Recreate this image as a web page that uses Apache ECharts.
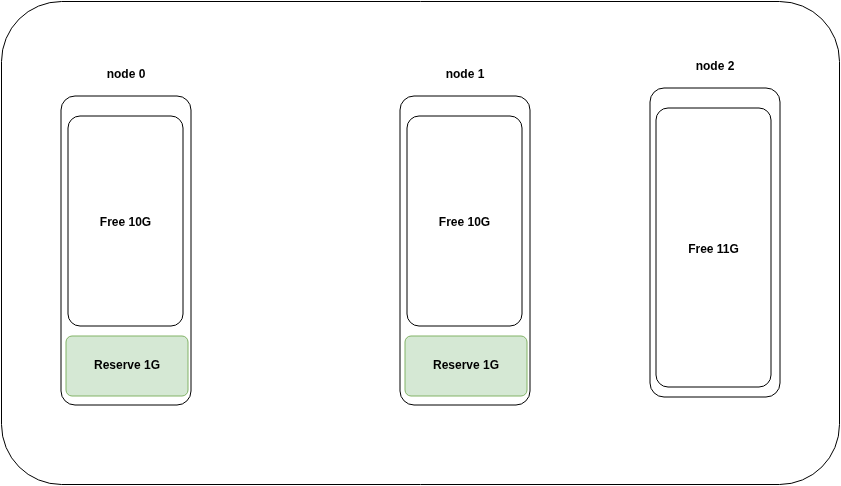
<!DOCTYPE html>
<html>
<head>
<meta charset="utf-8">
<script src="https://cdn.jsdelivr.net/npm/echarts@6/dist/echarts.min.js"></script>
<style>
  html, body { margin: 0; padding: 0; background: #fff; }
  #main { width: 841px; height: 486px; }
</style>
</head>
<body>
<div id="main"></div>
<script>
// 节点数据
var nodeNames = ['node 0', 'node 1', 'node 2'];
var freeGB = [10, 10, 11];
var reserveGB = [1, 1, 0];

// 每个节点框的位置（左, 上）
var nodeLayout = [[61, 96], [400, 96], [650, 88]];

var myChart = echarts.init(document.getElementById('main'));
var font = 'bold 12px "Liberation Sans", Arial, sans-serif';

function renderNode(params, api) {
    var i = api.value(0);
    var pos = nodeLayout[i];
    var x = pos[0], y = pos[1];
    var free = api.value(1), reserve = api.value(2);
    var p = function (a, b) { return api.coord([a, b]); };
    var tl = p(x, y), br = p(x + 130, y + 309);
    var children = [];
    children.push({ type: 'rect', shape: { x: tl[0], y: tl[1], width: br[0] - tl[0], height: br[1] - tl[1], r: 14 },
        style: { fill: '#fff', stroke: '#000', lineWidth: 1 } });
    children.push({ type: 'text', style: { x: (tl[0] + br[0]) / 2, y: tl[1] - 21, text: api.value(3),
        font: font, fill: '#000', align: 'center', verticalAlign: 'middle' } });
    var freeTop, freeBottom, fl, fr;
    if (reserve > 0) {
        freeTop = p(x + 7, y + 20); freeBottom = p(x + 122, y + 230);
    } else {
        freeTop = p(x + 6, y + 20); freeBottom = p(x + 121, y + 299);
    }
    children.push({ type: 'rect', shape: { x: freeTop[0], y: freeTop[1], width: freeBottom[0] - freeTop[0], height: freeBottom[1] - freeTop[1], r: 12 },
        style: { fill: '#fff', stroke: '#000', lineWidth: 1 } });
    children.push({ type: 'text', style: { x: (freeTop[0] + freeBottom[0]) / 2, y: (freeTop[1] + freeBottom[1]) / 2 + 2,
        text: 'Free ' + free + 'G', font: font, fill: '#000', align: 'center', verticalAlign: 'middle' } });
    if (reserve > 0) {
        var rt = p(x + 5, y + 240), rb = p(x + 127, y + 300);
        children.push({ type: 'rect', shape: { x: rt[0], y: rt[1], width: rb[0] - rt[0], height: rb[1] - rt[1], r: 6 },
            style: { fill: '#d5e8d4', stroke: '#82b366', lineWidth: 1 } });
        children.push({ type: 'text', style: { x: (rt[0] + rb[0]) / 2, y: (rt[1] + rb[1]) / 2,
            text: 'Reserve ' + reserve + 'G', font: font, fill: '#000', align: 'center', verticalAlign: 'middle' } });
    }
    return { type: 'group', children: children };
}

var option = {
    animation: false,
    grid: { left: 0, right: 0, top: 0, bottom: 0 },
    xAxis: { type: 'value', min: 0, max: 841, show: false },
    yAxis: { type: 'value', min: 0, max: 486, inverse: true, show: false },
    graphic: [{
        type: 'rect', left: 1, top: 1,
        shape: { width: 838, height: 483, r: 60 },
        style: { fill: '#fff', stroke: '#000', lineWidth: 1 },
        z: -1
    }],
    series: [{
        type: 'custom',
        renderItem: renderNode,
        data: nodeNames.map(function (n, i) { return [i, freeGB[i], reserveGB[i], n]; })
    }]
};

myChart.setOption(option);
</script>
</body>
</html>
